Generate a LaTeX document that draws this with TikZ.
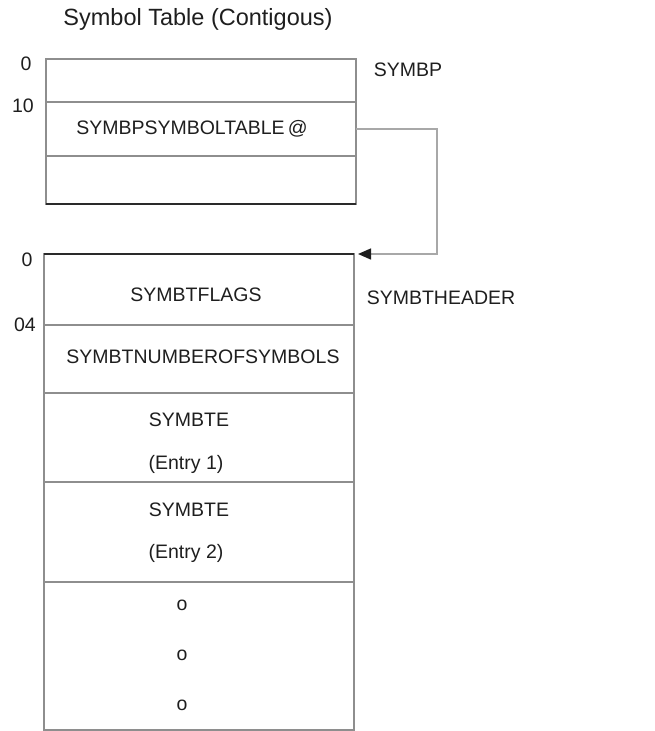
\documentclass[tikz,border=0pt]{standalone}
\usepackage{fontspec}
\setmainfont{Liberation Sans}
\usepackage{tikz}
\usetikzlibrary{arrows.meta,positioning,calc}
\definecolor{stline}{HTML}{8E8E8E}
\definecolor{stdark}{HTML}{2A2A2A}
\definecolor{stink}{HTML}{1E1E1E}
\definecolor{stwire}{HTML}{A8A8A8}

\begin{document}
\begin{tikzpicture}[x=1pt,y=-1pt,
    cell/.style={draw=stline,line width=1.4pt,minimum width=310pt,inner sep=0pt,outer sep=0pt},
    lbl/.style={font=\fontsize{19.5}{22}\selectfont,text=stink,inner sep=0pt},
    darkedge/.style={draw=stdark,line width=1.8pt},
    wire/.style={draw=stwire,line width=1.4pt,-{Triangle[length=13pt,width=11pt,color=stink]}}]
  \useasboundingbox (0,0) rectangle (654,731);
  \node[font=\fontsize{23.5}{26}\selectfont,text=stink,inner sep=0pt] (title) at (198,19) {Symbol Table (Contigous)};
  \node[cell,anchor=north west,minimum height=43pt] (p0) at (46,59) {};
  \node[cell,below=0pt of p0,minimum height=54pt] (p1) {};
  \node[cell,below=0pt of p1,minimum height=48pt] (p2) {};
  \draw[darkedge] (p2.south west) -- (p2.south east);
  \node[cell,anchor=north west,minimum height=71pt] (h0) at (44,254) {};
  \node[cell,below=0pt of h0,minimum height=68pt] (h1) {};
  \node[cell,below=0pt of h1,minimum height=89pt] (h2) {};
  \node[cell,below=0pt of h2,minimum height=100pt] (h3) {};
  \node[cell,below=0pt of h3,minimum height=148pt] (h4) {};
  \draw[darkedge] (h0.north west) -- (h0.north east);
  \node[lbl] (offp0) at (26,64) {0};
  \node[lbl] (offp10) at (23,106) {10};
  \node[lbl] (offh0) at (27,260) {0};
  \node[lbl] (offh4) at (25,325) {04};
  \node[lbl] (symbp) at (408,70) {SYMBP};
  \node[lbl] (symbthdr) at (441,298) {SYMBTHEADER};
  \node[lbl] (ptrtxt) at (192,129) {SYMBPSYMBOLTABLE\,@};
  \node[lbl] (flags) at (196,295) {SYMBTFLAGS};
  \node[lbl] (nsyms) at (203,357) {SYMBTNUMBEROFSYMBOLS};
  \node[lbl] (ent1) at (189,420) {SYMBTE};
  \node[lbl] (ent1n) at (186,464) {(Entry 1)};
  \node[lbl] (ent2) at (189,510) {SYMBTE};
  \node[lbl] (ent2n) at (186,553) {(Entry 2)};
  \foreach \y/\n in {605/1,655/2,705/3}
    \node[lbl] (dot\n) at (182,\y) {o};
  \draw[wire] (p1.east) -- ++(81,0) |- ([xshift=4pt]h0.north east);
\end{tikzpicture}
\end{document}
